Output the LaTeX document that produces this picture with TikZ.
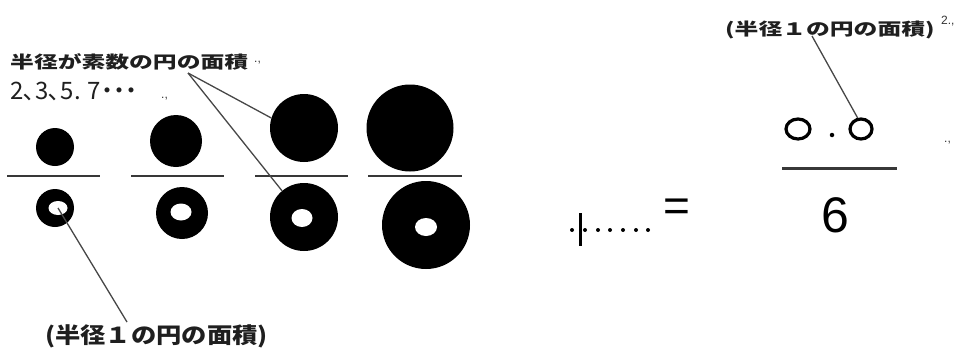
\documentclass[tikz,border=0pt]{standalone}
\usepackage{fontspec}
\setmainfont{Liberation Sans}
\newfontfamily\jpfont{Noto Sans CJK JP}
\newfontfamily\jpwide[FakeStretch=1.4]{Noto Sans CJK JP}
\newfontfamily\jpmid[FakeStretch=1.15]{Noto Sans CJK JP}
\usetikzlibrary{shapes.geometric}

\begin{document}
\begin{tikzpicture}[
    x=1pt, y=-1pt,
    disc/.style={
        circle,
        fill=black,
        inner sep=0pt
    },
    hole/.style={
        ellipse,
        fill=white,
        inner sep=0pt
    },
    ringmark/.style={
        ellipse,
        draw=black,
        line width=3.2pt,
        inner sep=0pt
    },
    fracbar/.style={
        draw=black!78,
        line width=2.5pt
    },
    lead/.style={
        draw=black!72,
        line width=1.3pt
    },
    note/.style={
        font=\jpwide\bfseries\fontsize{17pt}{20pt}\selectfont,
        text=black!88,
        inner sep=0pt
    },
    bignote/.style={
        font=\jpmid\bfseries\fontsize{22pt}{24pt}\selectfont,
        text=black!88,
        inner sep=0pt
    },
    tick/.style={
        font=\fontsize{12pt}{12pt}\selectfont,
        text=black!80,
        inner sep=0pt
    }
]
\useasboundingbox (0,0) rectangle (965,356);

% Labels
\node[note, anchor=west] (primes) at (10,62) {半径が素数の円の面積};
\node[tick, anchor=west] (primesend) at (254,63) {.,};
\node[anchor=west, inner sep=0pt, text=black!88,
    font=\jpfont\fontsize{24pt}{26pt}\selectfont] (seq) at (10,91) {2､3､5. 7{\bfseries･･･}};
\node[tick, anchor=west] (seqend) at (161,99) {.,};

% Numerators
\node[disc, minimum size=38pt] (n1) at (55,147) {};
\node[disc, minimum size=52pt] (n2) at (176,141) {};
\node[disc, minimum size=68pt] (n3) at (304,128) {};
\node[disc, minimum size=87pt] (n4) at (410,128) {};

% Fraction bars
\foreach \a/\b in {7/100, 131/224, 255/348, 368/462}
    \draw[fracbar] (\a,176) -- (\b,176);

% Denominators
\node[disc, minimum size=38pt] (d1) at (55,208) {};
\node[hole, minimum width=19pt, minimum height=14pt] (h1) at (58,208) {};
\node[disc, minimum size=52pt] (d2) at (182,213) {};
\node[hole, minimum width=21pt, minimum height=17pt] (h2) at (181,212) {};
\node[disc, minimum size=68pt] (d3) at (304,217) {};
\node[hole, minimum width=21pt, minimum height=18pt] (h3) at (302,218) {};
\node[disc, minimum size=88pt] (d4) at (426,225) {};
\node[hole, minimum width=22pt, minimum height=18pt] (h4) at (426,227) {};

\node[bignote, anchor=west] (unit) at (45,336) {(半径１の円の面積)};

% Series tail
\node[fill=black, minimum width=3pt, minimum height=33pt, inner sep=0pt] (plus) at (580,229) {};
\foreach \x in {572,585,598,610,623,636,648}
    \fill (\x,230) circle[radius=2pt];
\node[inner sep=0pt, font=\fontsize{46pt}{46pt}\selectfont] (eq) at (677,210) {=};

% Result
\node[note, anchor=west] (area) at (725,30) {(半径１の円の面積)};
\node[tick, anchor=west] (sq) at (941,21) {2.,};
\node[ringmark, minimum width=24pt, minimum height=20pt] (o1) at (798,129) {};
\node[disc, minimum size=4.5pt] (pt) at (832,135) {};
\node[ringmark, minimum width=22pt, minimum height=20pt] (o2) at (861,129) {};
\draw[fracbar, line width=3pt] (782,168) -- (897,168);
\node[inner sep=0pt, font=\fontsize{50pt}{50pt}\selectfont] (six) at (835,215) {6};
\node[tick, anchor=west] (rightend) at (944,143) {.,};

% Leader lines
\coordinate (fork) at (188,73);
\coordinate (foot) at (127,322);
\coordinate (tail) at (812,36);
\draw[lead] (fork) -- (n3.163);
\draw[lead] (fork) -- (d3.130);
\draw[lead] (h1.center) -- (foot);
\draw[lead] (tail) -- (o2.107);

\end{tikzpicture}
\end{document}
